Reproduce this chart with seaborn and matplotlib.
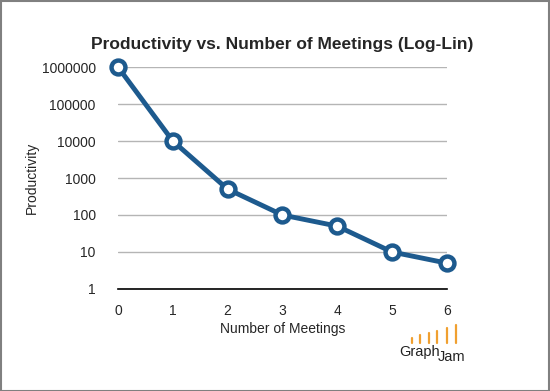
import matplotlib
matplotlib.use('Agg')
import matplotlib.pyplot as plt
import seaborn as sns
import pandas as pd
from matplotlib.patches import Rectangle

# dados
meetings = [0, 1, 2, 3, 4, 5, 6]
productivity = [1000000, 10000, 500, 100, 50, 10, 5]
y_ticks = [1, 10, 100, 1000, 10000, 100000, 1000000]

df = pd.DataFrame({'meetings': meetings, 'productivity': productivity})

sns.set_style("white")
plt.rcParams['font.family'] = ['Liberation Sans', 'DejaVu Sans']

W, H = 550, 391
fig = plt.figure(figsize=(5.5, 3.91), dpi=100)
ax = fig.add_axes([0.2145, 0.2609, 0.598, 0.5677])

line_color = '#1d5a8e'
sns.lineplot(data=df, x='meetings', y='productivity', ax=ax, color=line_color,
             linewidth=3.5, marker='o', markersize=10, markerfacecolor='white',
             markeredgecolor=line_color, markeredgewidth=3.2, clip_on=False, zorder=5)

ax.set_yscale('log')
ax.set_ylim(1, 1000000)
ax.set_xlim(0, 6)
ax.set_yticks(y_ticks)
ax.set_yticklabels([str(v) for v in y_ticks])
ax.minorticks_off()
ax.set_xticks(meetings)
ax.tick_params(axis='both', length=0, labelsize=10)
ax.tick_params(axis='y', pad=16)
ax.tick_params(axis='x', pad=11)
ax.yaxis.grid(True, color='#b5b5b5', linewidth=1)
for s in ['top', 'right', 'left']:
    ax.spines[s].set_visible(False)
ax.spines['bottom'].set_color('black')
ax.spines['bottom'].set_linewidth(1.2)

ax.set_xlabel('Number of Meetings', fontsize=10, labelpad=3)
ax.set_ylabel('Productivity', fontsize=10, labelpad=2)
ax.set_title('Productivity vs. Number of Meetings (Log-Lin)', fontsize=12.5,
             fontweight='bold', pad=13)

# logo GraphJam
fig.text(399 / W, 1 - 356 / H, 'Graph', fontsize=10.5, color='#222222', va='baseline')
fig.text(438 / W, 1 - 361 / H, 'Jam', fontsize=10.5, color='#222222', va='baseline')
bar_x = [412, 420, 429, 437, 447, 456]
bar_top = [338, 335, 333, 331, 328, 325]
for bx, bt in zip(bar_x, bar_top):
    fig.add_artist(plt.Line2D([bx / W, bx / W], [1 - 343 / H, 1 - bt / H],
                              color='#f0a030', linewidth=1.6))

# borda da imagem
fig.add_artist(Rectangle((0.001, 0.001), 0.997, 0.996, transform=fig.transFigure,
                         fill=False, edgecolor='#808080', linewidth=1.5))

plt.savefig('out.png', dpi=100)
